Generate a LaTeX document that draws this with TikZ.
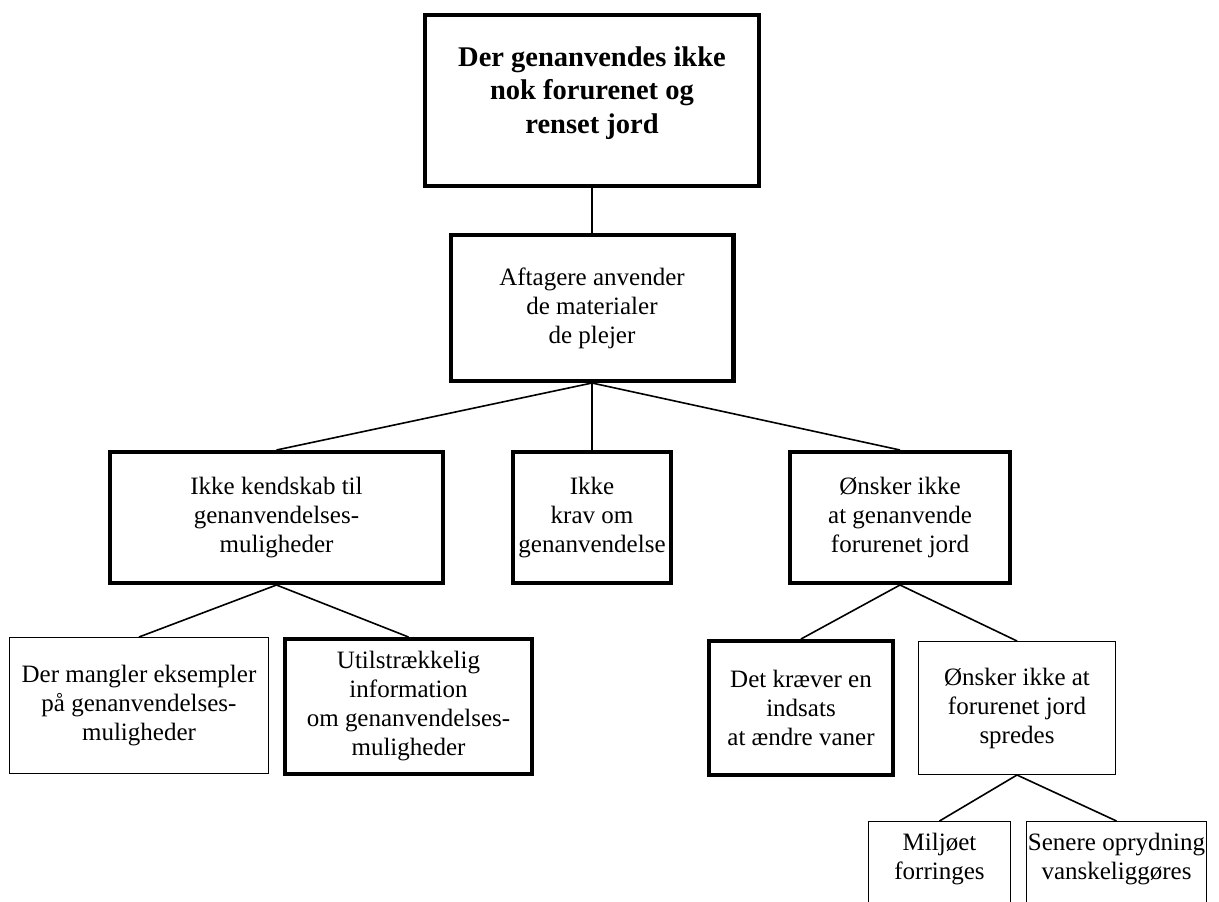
\documentclass[tikz,border=0pt]{standalone}
\usepackage{fontspec}
\setmainfont{Liberation Serif}
\begin{document}
\begin{tikzpicture}[x=1pt,y=-1pt,
  box/.style={draw, rectangle, align=center, inner sep=0pt,
    font=\fontsize{25}{29}\selectfont},
  heavy/.style={box, line width=4.2pt},
  light/.style={box, line width=1.3pt},
  boxtext/.style={align=center, inner sep=0pt,
    font=\fontsize{25}{29}\selectfont},
  titletext/.style={align=center, inner sep=0pt,
    font=\fontsize{28.5}{33.5}\selectfont\bfseries},
  link/.style={line width=1.6pt}]
\useasboundingbox (0,0) rectangle (1219,902);
\clip (0,0) rectangle (1219,902);

% root problem
\node[heavy, minimum width=333.8pt, minimum height=170.8pt] (top) at (592,100.5) {};
\node[titletext] (toptext) at (592,93)
  {Der genanvendes ikke\\nok forurenet og\hspace*{7pt}\\renset jord};

% first level
\node[heavy, minimum width=282.8pt, minimum height=145.8pt] (aft) at (592,308)
  {Aftagere anvender\\de materialer\hspace*{7pt}\\de plejer};

% second level
\node[heavy, minimum width=332.8pt, minimum height=130.8pt] (ken) at (276.5,517.5)
  {Ikke kendskab til\\genanvendelses-\\muligheder};
\node[heavy, minimum width=157.8pt, minimum height=130.8pt] (krav) at (592,517.5)
  {Ikke\\krav om\\genanvendelse};
\node[heavy, minimum width=219.8pt, minimum height=130.8pt] (gen) at (900,517.5)
  {Ønsker ikke\\at genanvende\\forurenet jord};

% third level
\node[light, minimum width=258.7pt, minimum height=135.7pt] (mangl) at (139,705.5)
  {Der mangler eksempler\\på genanvendelses-\\muligheder};
\node[heavy, minimum width=246.8pt, minimum height=134.8pt] (util) at (408.5,706.5)
  {Utilstrækkelig\\information\\om genanvendelses-\\muligheder};
\node[heavy, minimum width=183.8pt, minimum height=133.8pt] (krae) at (801,708)
  {Det kræver en\\indsats\\at ændre vaner};
\node[light, minimum width=196.7pt, minimum height=132.7pt] (spred) at (1017,708)
  {Ønsker ikke at\\forurenet jord\\spredes};

% fourth level (boxes run on below the lower edge)
\node[light, minimum width=141.7pt, minimum height=133.7pt] (milj) at (939.5,888.5) {};
\node[boxtext] (miljtext) at (939.5,859) {Miljøet\\forringes};
\node[light, minimum width=179.7pt, minimum height=133.7pt] (sen) at (1116.5,888.5) {};
\node[boxtext] (sentext) at (1116.5,859) {Senere oprydning\\vanskeliggøres};

% connectors
\draw[link] (top.south) -- (aft.north);
\draw[link] (aft.south) -- (ken.north);
\draw[link] (aft.south) -- (krav.north);
\draw[link] (aft.south) -- (gen.north);
\draw[link] (ken.south) -- (mangl.north);
\draw[link] (ken.south) -- (util.north);
\draw[link] (gen.south) -- (krae.north);
\draw[link] (gen.south) -- (spred.north);
\draw[link] (spred.south) -- (milj.north);
\draw[link] (spred.south) -- (sen.north);
\end{tikzpicture}
\end{document}
